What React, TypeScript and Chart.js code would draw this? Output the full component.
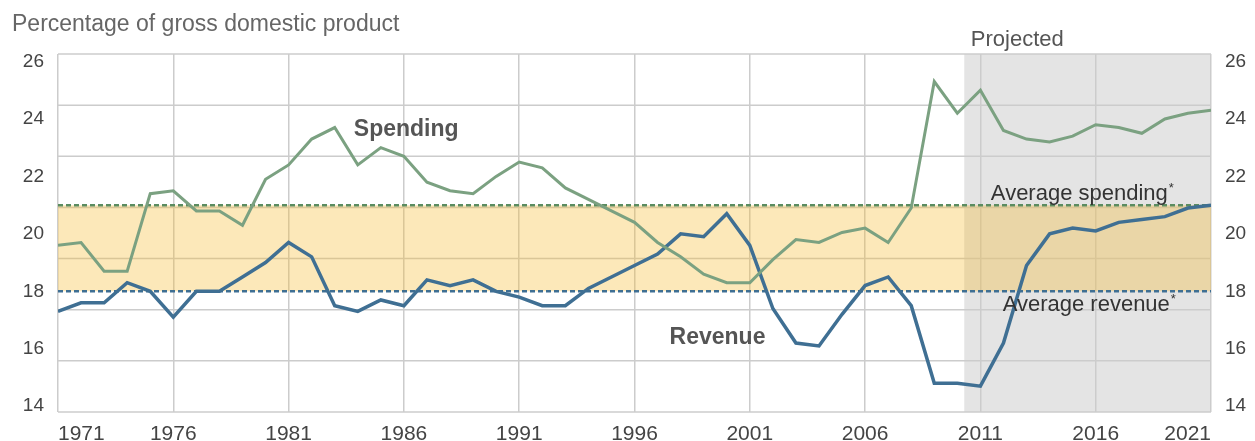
import React, { useEffect, useRef } from "react";
import { Chart, registerables } from "chart.js";

Chart.register(...registerables);

const years = [
  1971, 1972, 1973, 1974, 1975, 1976, 1977, 1978, 1979, 1980,
  1981, 1982, 1983, 1984, 1985, 1986, 1987, 1988, 1989, 1990,
  1991, 1992, 1993, 1994, 1995, 1996, 1997, 1998, 1999, 2000,
  2001, 2002, 2003, 2004, 2005, 2006, 2007, 2008, 2009, 2010,
  2011, 2012, 2013, 2014, 2015, 2016, 2017, 2018, 2019, 2020,
  2021,
];

const spending = [
  19.6, 19.7, 18.7, 18.7, 21.4, 21.5, 20.8, 20.8, 20.3, 21.9,
  22.4, 23.3, 23.7, 22.4, 23.0, 22.7, 21.8, 21.5, 21.4, 22.0,
  22.5, 22.3, 21.6, 21.2, 20.8, 20.4, 19.7, 19.2, 18.6, 18.3,
  18.3, 19.1, 19.8, 19.7, 20.05, 20.2, 19.7, 20.9, 25.3, 24.2,
  25.0, 23.6, 23.3, 23.2, 23.4, 23.8, 23.7, 23.5, 24.0, 24.2,
  24.3,
];

const revenue = [
  17.3, 17.6, 17.6, 18.3, 18.0, 17.1, 18.0, 18.0, 18.5, 19.0,
  19.7, 19.2, 17.5, 17.3, 17.7, 17.5, 18.4, 18.2, 18.4, 18.0,
  17.8, 17.5, 17.5, 18.1, 18.5, 18.9, 19.3, 20.0, 19.9, 20.7,
  19.6, 17.4, 16.2, 16.1, 17.2, 18.2, 18.5, 17.5, 14.8, 14.8,
  14.7, 16.2, 18.9, 20.0, 20.2, 20.1, 20.4, 20.5, 20.6, 20.9,
  21.0,
];

const averageSpending = 21.0;
const averageRevenue = 18.0;
const projectedFrom = 2010.3;

const yTicks = [14, 16, 18, 20, 22, 24, 26];
const xTicks = [1971, 1976, 1981, 1986, 1991, 1996, 2001, 2006, 2011, 2016, 2021];

const FONT = "'Liberation Sans', Arial, Helvetica, sans-serif";

export default function App() {
  const ref = useRef<HTMLCanvasElement>(null);

  useEffect(() => {
    document.body.style.margin = "0";
    const canvas = ref.current!;

    const bgPlugin = {
      id: "bg",
      beforeDraw(chart: any) {
        const { ctx, chartArea, scales } = chart;
        const { left, right, top, bottom } = chartArea;
        ctx.save();
        ctx.fillStyle = "#ffffff";
        ctx.fillRect(0, 0, chart.width, chart.height);
        const px = scales.x.getPixelForValue(projectedFrom);
        ctx.fillStyle = "#e4e4e4";
        ctx.fillRect(px, top, right - px, bottom - top);
        ctx.strokeStyle = "#cccccc";
        ctx.lineWidth = 1.5;
        const n = 7;
        for (let i = 0; i <= n; i++) {
          const yy = top + ((bottom - top) * i) / n;
          ctx.beginPath();
          ctx.moveTo(left, yy);
          ctx.lineTo(right, yy);
          ctx.stroke();
        }
        ctx.restore();
      },
    };

    const textPlugin = {
      id: "texts",
      afterDatasetsDraw(chart: any) {
        const { ctx, chartArea, scales } = chart;
        const x = scales.x;
        const y = scales.y;
        ctx.save();
        ctx.textBaseline = "alphabetic";

        ctx.fillStyle = "#666666";
        ctx.font = `23px ${FONT}`;
        ctx.textAlign = "left";
        ctx.fillText("Percentage of gross domestic product", 12, 31);

        ctx.textAlign = "center";
        ctx.font = `22px ${FONT}`;
        ctx.fillStyle = "#555555";
        ctx.fillText("Projected", x.getPixelForValue(2012.6), chartArea.top - 8);

        ctx.font = `bold 23px ${FONT}`;
        ctx.fillStyle = "#555555";
        ctx.fillText("Spending", x.getPixelForValue(1986.1), y.getPixelForValue(23.42));
        ctx.fillText("Revenue", x.getPixelForValue(1999.6), y.getPixelForValue(16.15));

        const starLabel = (text: string, cx: number, base: number) => {
          ctx.font = `22px ${FONT}`;
          const w = ctx.measureText(text).width;
          ctx.font = `13px ${FONT}`;
          const aw = ctx.measureText("*").width;
          const l = cx - (w + aw) / 2;
          ctx.textAlign = "left";
          ctx.font = `22px ${FONT}`;
          ctx.fillText(text, l, base);
          ctx.font = `13px ${FONT}`;
          ctx.fillText("*", l + w + 1, base - 8);
        };
        ctx.fillStyle = "#333333";
        starLabel("Average spending", x.getPixelForValue(2015.4), y.getPixelForValue(averageSpending) - 5);
        starLabel("Average revenue", x.getPixelForValue(2015.7), y.getPixelForValue(averageRevenue) + 20);
        ctx.restore();
      },
    };

    const pts = (vals: number[]) => years.map((yr, i) => ({ x: yr, y: vals[i] }));
    const first = years[0];
    const last = years[years.length - 1];

    const yScale = (position: "left" | "right", width: number) => ({
      type: "linear" as const,
      position,
      min: 13.8,
      max: 26.26,
      afterBuildTicks: (axis: any) => {
        axis.ticks = yTicks.map((v) => ({ value: v }));
      },
      afterFit: (axis: any) => {
        axis.width = width;
      },
      grid: { display: false, drawTicks: false },
      border: { display: false },
      ticks: {
        padding: 14,
        color: "#444444",
        font: { family: FONT, size: 19 },
        callback: (v: any) => String(v),
      },
    });

    const chart = new Chart(canvas, {
      type: "line",
      data: {
        datasets: [
          {
            label: "Spending",
            data: pts(spending),
            borderColor: "#7ba181",
            borderWidth: 3,
            pointRadius: 0,
            tension: 0,
            fill: false,
          },
          {
            label: "Revenue",
            data: pts(revenue),
            borderColor: "#3f6f93",
            borderWidth: 3.5,
            pointRadius: 0,
            tension: 0,
            fill: false,
          },
          {
            label: "Average spending",
            data: [
              { x: first, y: averageSpending },
              { x: last, y: averageSpending },
            ],
            borderColor: "#5b8c60",
            borderWidth: 2.5,
            borderDash: [5, 3],
            pointRadius: 0,
            fill: false,
          },
          {
            label: "Average revenue",
            data: [
              { x: first, y: averageRevenue },
              { x: last, y: averageRevenue },
            ],
            borderColor: "#3f6f93",
            borderWidth: 2.5,
            borderDash: [5, 3],
            pointRadius: 0,
            fill: "-1",
            backgroundColor: "rgba(246,185,43,0.33)",
          },
        ],
      },
      options: {
        responsive: false,
        animation: false,
        devicePixelRatio: 1,
        layout: { padding: { top: 54, left: 0, right: 0, bottom: 0 } },
        plugins: {
          legend: { display: false },
          tooltip: { enabled: false },
        },
        scales: {
          x: {
            type: "linear",
            min: 1971,
            max: 2021,
            afterBuildTicks: (axis: any) => {
              axis.ticks = xTicks.map((v) => ({ value: v }));
            },
            afterFit: (axis: any) => {
              axis.height = 29;
            },
            grid: { color: "#cccccc", lineWidth: 1.5, drawTicks: false },
            border: { display: false },
            ticks: {
              align: "inner",
              padding: 10,
              maxRotation: 0,
              autoSkip: false,
              color: "#444444",
              font: { family: FONT, size: 21 },
              callback: (v: any) => String(v),
            },
          },
          y: yScale("left", 58),
          y1: yScale("right", 44),
        },
      },
      plugins: [bgPlugin, textPlugin],
    } as any);

    return () => chart.destroy();
  }, []);

  return (
    <div style={{ width: 1255, height: 441 }}>
      <canvas ref={ref} width={1255} height={441} style={{ display: "block" }} />
    </div>
  );
}
